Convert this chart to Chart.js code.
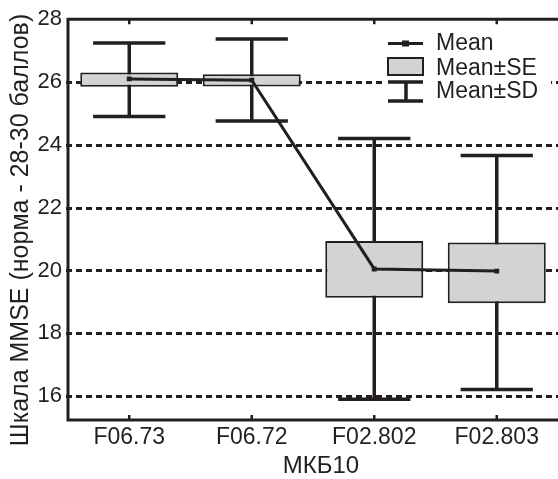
<!DOCTYPE html>
<html>
<head>
<meta charset="utf-8">
<script src="https://cdn.jsdelivr.net/npm/chart.js@4"></script>
<style>
  html, body { margin: 0; padding: 0; background: #fff; overflow: hidden; }
  #wrap { width: 562px; height: 479px; position: relative; }
</style>
</head>
<body>
<div id="wrap"><canvas id="c"></canvas></div>
<script>
// МКБ10 groups and MMSE statistics
const categories = ['F06.73', 'F06.72', 'F02.802', 'F02.803'];
const mean   = [26.10, 26.06, 20.05, 19.98];
const seLow  = [25.85, 25.86, 19.13, 18.96];
const seHigh = [26.30, 26.25, 20.94, 20.89];
const sdLow  = [24.90, 24.76, 15.90, 16.21];
const sdHigh = [27.24, 27.37, 24.20, 23.66];
const yTicks = [16, 18, 20, 22, 24, 26, 28];
const xTitle = 'МКБ10';
const yTitle = 'Шкала MMSE (норма - 28-30 баллов)';

const INK = '#231f20';
const FILL = '#d1d3d4';
const FONT = 'Arial, "Liberation Sans", sans-serif';

const decor = {
  id: 'decor',
  beforeDatasetsDraw(chart) {
    const { ctx, chartArea: a, scales: { x, y } } = chart;
    ctx.save();
    // dotted horizontal grid
    ctx.strokeStyle = INK;
    ctx.lineWidth = 3;
    ctx.setLineDash([6, 4]);
    yTicks.filter(v => v < 28).forEach(v => {
      const py = Math.round(y.getPixelForValue(v)) + 0.5;
      ctx.beginPath();
      ctx.moveTo(a.left - 2, py);
      ctx.lineTo(a.right, py);
      ctx.stroke();
    });
    ctx.setLineDash([]);
    // SD whiskers
    ctx.lineWidth = 3.5;
    const step = x.getPixelForValue(1) - x.getPixelForValue(0);
    categories.forEach((c, i) => {
      const px = x.getPixelForValue(i);
      const top = y.getPixelForValue(sdHigh[i]);
      const bot = y.getPixelForValue(sdLow[i]);
      const hw = step * 0.295;
      ctx.beginPath();
      ctx.moveTo(px, top); ctx.lineTo(px, bot);
      ctx.moveTo(px - hw, top); ctx.lineTo(px + hw, top);
      ctx.moveTo(px - hw, bot); ctx.lineTo(px + hw, bot);
      ctx.stroke();
    });
    ctx.restore();
  },
  afterDatasetsDraw(chart) {
    const { ctx, chartArea: a, scales: { x } } = chart;
    ctx.save();
    ctx.strokeStyle = INK;
    ctx.lineWidth = 3;
    // frame: left, bottom, top
    ctx.beginPath();
    ctx.moveTo(a.right, a.top); ctx.lineTo(a.left, a.top);
    ctx.lineTo(a.left, a.bottom); ctx.lineTo(a.right, a.bottom);
    ctx.stroke();
    // category tick marks, pointing inward
    ctx.lineWidth = 2.5;
    categories.forEach((c, i) => {
      const px = x.getPixelForValue(i);
      ctx.beginPath();
      ctx.moveTo(px, a.bottom); ctx.lineTo(px, a.bottom - 5);
      ctx.moveTo(px, a.top); ctx.lineTo(px, a.top + 5);
      ctx.stroke();
    });

    // axis titles
    ctx.fillStyle = INK;
    ctx.textAlign = 'center';
    ctx.textBaseline = 'alphabetic';
    ctx.font = '24px ' + FONT;
    ctx.fillText(xTitle, 321, 473);
    ctx.save();
    ctx.translate(28, 230);
    ctx.rotate(-Math.PI / 2);
    ctx.font = '25px ' + FONT;
    ctx.fillText(yTitle, 0, 0);
    ctx.restore();

    // legend
    const lx0 = 388, lx1 = 423, lxm = 406;
    ctx.fillStyle = '#fff';
    ctx.fillRect(383, 30, 168, 76);
    ctx.strokeStyle = INK;
    ctx.fillStyle = INK;
    ctx.lineWidth = 3;
    ctx.beginPath(); ctx.moveTo(lx0, 43.5); ctx.lineTo(lx1, 43.5); ctx.stroke();
    ctx.fillRect(402, 40.5, 7, 6);
    ctx.fillStyle = FILL;
    ctx.fillRect(lx0, 58, lx1 - lx0, 17);
    ctx.lineWidth = 2;
    ctx.strokeRect(lx0, 58, lx1 - lx0, 17);
    ctx.lineWidth = 3.5;
    ctx.beginPath();
    ctx.moveTo(lx0, 82); ctx.lineTo(lx1, 82);
    ctx.moveTo(lx0, 101); ctx.lineTo(lx1, 101);
    ctx.moveTo(lxm, 82); ctx.lineTo(lxm, 101);
    ctx.stroke();
    ctx.fillStyle = INK;
    ctx.font = '23px ' + FONT;
    ctx.textBaseline = 'alphabetic';
    ctx.textAlign = 'left';
    ctx.fillText('Mean', 436, 50);
    ctx.fillText('Mean\u00B1SE', 436, 75);
    ctx.fillText('Mean\u00B1SD', 436, 98);
    ctx.restore();
  }
};

new Chart(document.getElementById('c'), {
  data: {
    labels: categories,
    datasets: [
      {
        type: 'line',
        label: 'Mean',
        data: mean,
        order: 1,
        borderColor: INK,
        borderWidth: 3,
        tension: 0,
        pointStyle: 'rect',
        pointRadius: 3.5,
        pointBackgroundColor: INK,
        pointBorderColor: INK,
        pointBorderWidth: 0
      },
      {
        type: 'bar',
        label: 'Mean\u00B1SE',
        data: seLow.map((v, i) => [v, seHigh[i]]),
        order: 2,
        backgroundColor: FILL,
        borderColor: INK,
        borderWidth: 2,
        borderSkipped: false,
        barPercentage: 0.8,
        categoryPercentage: 1
      }
    ]
  },
  options: {
    responsive: true,
    maintainAspectRatio: false,
    animation: false,
    devicePixelRatio: 1,
    layout: { padding: { top: 18, right: 2, left: 0, bottom: 0 } },
    plugins: { legend: { display: false }, tooltip: { enabled: false } },
    scales: {
      x: {
        type: 'category',
        offset: true,
        grid: { display: false, drawTicks: false },
        border: { display: false },
        ticks: { color: INK, font: { family: FONT, size: 23 }, padding: 4, maxRotation: 0 },
        afterFit: s => { s.height = 59; }
      },
      y: {
        type: 'linear',
        min: 15.24,
        max: 28,
        afterBuildTicks: s => { s.ticks = yTicks.map(v => ({ value: v })); },
        grid: { display: false, drawTicks: false },
        border: { display: false },
        ticks: { color: INK, font: { family: FONT, size: 22 }, padding: 6 },
        afterFit: s => { s.width = 68; }
      }
    }
  },
  plugins: [decor]
});
</script>
</body>
</html>
